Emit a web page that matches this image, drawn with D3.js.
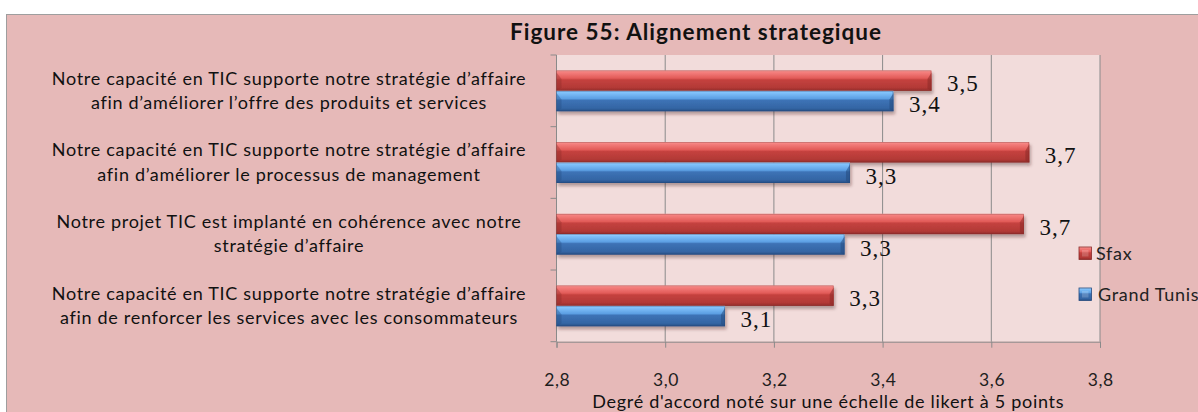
<!DOCTYPE html>
<html>
<head>
<meta charset="utf-8">
<script src="https://cdn.jsdelivr.net/npm/d3@7"></script>
<style>
  html, body { margin: 0; padding: 0; background: #ffffff; }
  svg { display: block; }
</style>
</head>
<body>
<svg id="chart" width="1198" height="412"></svg>
<script>
// Survey items (each label split over two lines)
const categories = [
  ["Notre capacité en TIC supporte notre stratégie d\u2019affaire", "afin d\u2019améliorer l\u2019offre des produits et services"],
  ["Notre capacité en TIC supporte notre stratégie d\u2019affaire", "afin d\u2019améliorer le processus de management"],
  ["Notre projet TIC est implanté en cohérence avec notre", "stratégie d\u2019affaire"],
  ["Notre capacité en TIC supporte notre stratégie d\u2019affaire", "afin de renforcer les services avec les consommateurs"]
];
const seriesNames = ["Sfax", "Grand Tunis"];
const sfaxValues = [3.49, 3.67, 3.66, 3.31];
const tunisValues = [3.42, 3.34, 3.33, 3.11];
const xTicks = [2.8, 3.0, 3.2, 3.4, 3.6, 3.8];
const titleText = "Figure 55: Alignement strategique";
const xAxisTitle = "Degré d'accord noté sur une échelle de likert à 5 points";

const svg = d3.select("#chart");
const W = 1198, H = 412;
const plot = { left: 556.5, right: 1100, top: 55, bottom: 341.7 };
const labelFont = "Lato, 'Open Sans', sans-serif";
const valueFont = "'Liberation Serif', 'Times New Roman', serif";
const gridColor = "#8a8a8a";

const comma = v => d3.format(".1f")(v).replace(".", ",");

// ---- defs: gradients and shadow for the bevelled bars
const defs = svg.append("defs");
function vGrad(id, stops) {
  const g = defs.append("linearGradient").attr("id", id)
    .attr("x1", 0).attr("y1", 0).attr("x2", 0).attr("y2", 1);
  stops.forEach(([o, c]) => g.append("stop").attr("offset", o).attr("stop-color", c));
}
vGrad("grad-sfax", [[0, "#f8aaa8"], [0.08, "#f5817f"], [0.38, "#e25b58"], [0.46, "#c5423f"], [0.85, "#b23936"], [1, "#8f2c2a"]]);
vGrad("grad-tunis", [[0, "#b2dcff"], [0.08, "#82c3fb"], [0.38, "#5c9fe3"], [0.46, "#3d73b6"], [0.85, "#3465a4"], [1, "#264d83"]]);
const colorsEdge = { "Sfax": "#8a2a28", "Grand Tunis": "#244a7e" };
const fills = { "Sfax": "url(#grad-sfax)", "Grand Tunis": "url(#grad-tunis)" };

const shadow = defs.append("filter").attr("id", "barShadow")
  .attr("x", "-5%").attr("y", "-30%").attr("width", "115%").attr("height", "190%");
shadow.append("feDropShadow").attr("dx", 1.5).attr("dy", 3).attr("stdDeviation", 1.6)
  .attr("flood-color", "#3a1a1a").attr("flood-opacity", 0.35);

// ---- chart frame
svg.append("rect").attr("x", 6.5).attr("y", 14.5).attr("width", W + 50).attr("height", H + 50)
  .attr("fill", "#e6b9b8").attr("stroke", "#9e9e9e").attr("stroke-width", 1);

// ---- scales
const x = d3.scaleLinear().domain([2.8, 3.8]).range([plot.left, plot.right]);
const catIdx = categories.map((_, i) => i);
const y = d3.scaleBand().domain(catIdx).range([plot.top, plot.bottom]).paddingInner(0).paddingOuter(0);
const ySub = d3.scaleBand().domain(seriesNames).range([0, y.bandwidth()]).paddingInner(0).paddingOuter(0.75);

// ---- plot area
svg.append("rect").attr("x", plot.left).attr("y", plot.top)
  .attr("width", plot.right - plot.left).attr("height", plot.bottom - plot.top)
  .attr("fill", "#f2dcdb");

// vertical gridlines
svg.append("g").selectAll("line").data(xTicks.slice(1)).join("line")
  .attr("x1", d => x(d)).attr("x2", d => x(d))
  .attr("y1", plot.top).attr("y2", plot.bottom)
  .attr("stroke", gridColor).attr("stroke-width", 1);

// x axis (bottom)
const xAxis = d3.axisBottom(x).tickValues(xTicks).tickSize(6).tickFormat(comma);
const gx = svg.append("g").attr("transform", `translate(0,${plot.bottom})`).call(xAxis);
gx.select(".domain").attr("stroke", gridColor);
gx.selectAll(".tick line").attr("stroke", gridColor);
gx.selectAll(".tick text")
  .attr("font-family", labelFont).attr("font-size", 17.5).attr("letter-spacing", 0.6).attr("fill", "#1e1e1e")
  .attr("y", 0).attr("dy", 0).attr("transform", "translate(0.3,44)");

// y axis: category boundaries with outward ticks
const bounds = catIdx.map(i => y(i)).concat([plot.bottom]);
const gy = svg.append("g");
gy.append("line").attr("x1", plot.left).attr("x2", plot.left)
  .attr("y1", plot.top).attr("y2", plot.bottom).attr("stroke", gridColor);
gy.selectAll("line.tk").data(bounds).join("line").attr("class", "tk")
  .attr("x1", plot.left - 6).attr("x2", plot.left).attr("y1", d => d).attr("y2", d => d)
  .attr("stroke", gridColor);

// category labels
const catG = svg.append("g").attr("font-family", labelFont).attr("font-size", 18)
  .attr("letter-spacing", 0.7).attr("fill", "#111");
catIdx.forEach(i => {
  const cy = y(i) + y.bandwidth() / 2;
  const lines = categories[i];
  const t = catG.append("text").attr("text-anchor", "middle");
  lines.forEach((ln, k) => {
    t.append("tspan").attr("x", 289)
      .attr("y", cy + (k - (lines.length - 1) / 2) * 24.6 + 6)
      .text(ln);
  });
});

// ---- bars
const rows = [];
catIdx.forEach(i => {
  rows.push({ cat: i, series: "Sfax", value: sfaxValues[i] });
  rows.push({ cat: i, series: "Grand Tunis", value: tunisValues[i] });
});

const barG = svg.append("g");
const bar = barG.selectAll("g.bar").data(rows).join("g").attr("class", "bar")
  .attr("transform", d => `translate(0,${y(d.cat) + ySub(d.series)})`);
const bh = ySub.bandwidth();

bar.append("rect")
  .attr("x", x(2.8)).attr("y", 0)
  .attr("width", d => x(d.value) - x(2.8)).attr("height", bh)
  .attr("fill", d => fills[d.series]).attr("filter", "url(#barShadow)");

// bevelled ends
bar.append("path")
  .attr("d", d => {
    const xe = x(d.value);
    return `M${xe - 4},${bh * 0.42} L${xe},${bh * 0.1} L${xe},${bh} L${xe - 4},${bh - 2} Z`;
  })
  .attr("fill", d => colorsEdge[d.series]).attr("opacity", 0.55);
bar.append("path")
  .attr("d", () => {
    const xs = x(2.8);
    return `M${xs},${bh * 0.1} L${xs + 5},${bh * 0.42} L${xs + 5},${bh - 3} L${xs},${bh} Z`;
  })
  .attr("fill", d => colorsEdge[d.series]).attr("opacity", 0.35);
bar.append("rect")
  .attr("x", x(2.8)).attr("y", 0.5)
  .attr("width", d => x(d.value) - x(2.8) - 0.5).attr("height", bh - 1)
  .attr("fill", "none").attr("stroke", d => colorsEdge[d.series]).attr("stroke-width", 0.6).attr("opacity", 0.6);

// value labels
bar.append("text")
  .attr("x", d => x(d.value) + 15.5)
  .attr("y", d => bh + (d.series === "Sfax" ? 0.5 : 1))
  .attr("font-family", valueFont).attr("font-size", 23).attr("letter-spacing", 1)
  .attr("fill", "#111")
  .text(d => comma(d.value));

// ---- title
svg.append("text").attr("x", 696).attr("y", 40).attr("text-anchor", "middle")
  .attr("font-family", labelFont).attr("font-weight", 700).attr("font-size", 22.5)
  .attr("letter-spacing", 1).attr("fill", "#111")
  .text(titleText);

// ---- x axis title
svg.append("text").attr("x", (plot.left + plot.right) / 2).attr("y", 408.3).attr("text-anchor", "middle")
  .attr("font-family", labelFont).attr("font-size", 18).attr("letter-spacing", 0.7).attr("fill", "#111")
  .text(xAxisTitle);

// ---- legend
const legend = svg.append("g").attr("transform", "translate(1079,247)");
const li = legend.selectAll("g").data(seriesNames).join("g")
  .attr("transform", (d, i) => `translate(0,${i * 41})`);
li.append("rect").attr("width", 12.5).attr("height", 12.5)
  .attr("fill", d => fills[d]).attr("stroke", d => colorsEdge[d]).attr("stroke-width", 0.8);
li.append("rect").attr("x", 3).attr("y", 3).attr("width", 6.5).attr("height", 6.5)
  .attr("fill", "#ffffff").attr("opacity", 0.18);
li.append("text").attr("x", (d, i) => i === 0 ? 17 : 19).attr("y", 12.5)
  .attr("font-family", labelFont).attr("font-size", 18).attr("letter-spacing", 0.7).attr("fill", "#222")
  .text(d => d);
</script>
</body>
</html>
